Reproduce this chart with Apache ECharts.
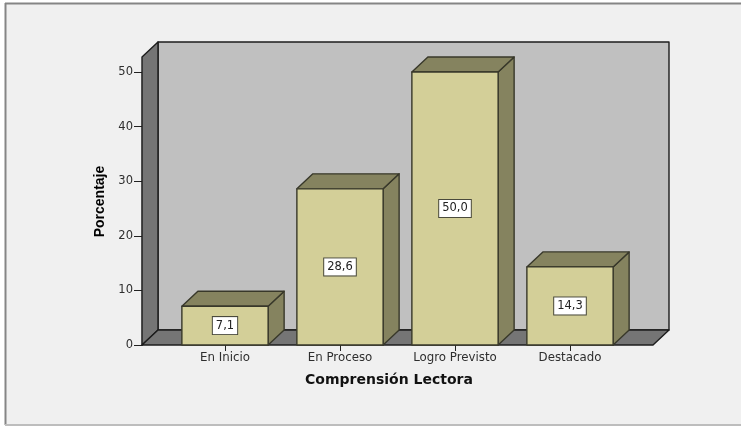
<!DOCTYPE html>
<html>
<head>
<meta charset="utf-8">
<style>html,body{margin:0;padding:0;background:#fff}#chart{width:741px;height:426px}</style>
<script src="https://cdn.jsdelivr.net/npm/echarts@6/dist/echarts.min.js"></script>
</head>
<body>
<div id="chart"></div>
<script>
const categories = ['En Inicio', 'En Proceso', 'Logro Previsto', 'Destacado'];
const percentages = [7.1, 28.6, 50.0, 14.3];
const yTicks = { min: 0, max: 50, interval: 10 };

// Oblique projection used for the pseudo-3D box
const DEPTH_X = 16, DEPTH_Y = 15;
const SIDE_PAD = 25.5, WALL_HEADROOM = 15;
const BAR_RATIO = 0.75;

const C = {
  page: '#f0f0f0', frame: '#858585', frameLow: '#bdbdbd', back: '#c0c0c0', wall: '#757575',
  wallLine: '#1c1c1c', front: '#d3cf98', side: '#85835f', barLine: '#38382a',
  text: '#2e2e2e'
};

const poly = (points, fill, stroke) => ({
  type: 'polygon',
  shape: { points },
  style: { fill, stroke, lineWidth: 1.4, lineJoin: 'round' }
});

// Back wall, left wall and floor of the box
function renderWalls(params) {
  const g = params.coordSys;
  const l = g.x - SIDE_PAD, r = g.x + g.width + SIDE_PAD;
  const b = g.y + g.height, t = g.y - WALL_HEADROOM;
  const dx = DEPTH_X, dy = DEPTH_Y;
  return {
    type: 'group',
    children: [
      poly([[l + dx, t - dy], [r + dx, t - dy], [r + dx, b - dy], [l + dx, b - dy]], C.back, C.wallLine),
      poly([[l, t], [l + dx, t - dy], [l + dx, b - dy], [l, b]], C.wall, C.wallLine),
      poly([[l, b], [l + dx, b - dy], [r + dx, b - dy], [r, b]], C.wall, C.wallLine)
    ]
  };
}

// One extruded bar with its boxed value label on the front face
function renderBar(params, api) {
  const idx = api.value(0);
  const val = api.value(1);
  const top = api.coord([idx, val]);
  const base = api.coord([idx, 0]);
  const w = api.size([1, 0])[0] * BAR_RATIO;
  const x0 = top[0] - w / 2, x1 = top[0] + w / 2;
  const y0 = top[1], y1 = base[1];
  const dx = DEPTH_X, dy = DEPTH_Y;
  return {
    type: 'group',
    children: [
      poly([[x1, y0], [x1 + dx, y0 - dy], [x1 + dx, y1 - dy], [x1, y1]], C.side, C.barLine),
      poly([[x0, y0], [x0 + dx, y0 - dy], [x1 + dx, y0 - dy], [x1, y0]], C.side, C.barLine),
      poly([[x0, y0], [x1, y0], [x1, y1], [x0, y1]], C.front, C.barLine),
      {
        type: 'text',
        x: top[0],
        y: (y0 + y1) / 2,
        style: {
          text: val.toFixed(1).replace('.', ','),
          fill: '#222',
          font: '11.5px "DejaVu Sans"',
          align: 'center',
          verticalAlign: 'middle',
          backgroundColor: '#ffffff',
          borderColor: '#4a4a3c',
          borderWidth: 1,
          padding: [3, 3, 2, 3]
        }
      }
    ]
  };
}

const chart = echarts.init(document.getElementById('chart'), null, { renderer: 'canvas' });
chart.setOption({
  animation: false,
  graphic: [
    { type: 'rect', z: -2, shape: { x: 5, y: 3, width: 745, height: 422 }, style: { fill: C.page } },
    { type: 'line', z: -1, shape: { x1: 5, y1: 3.5, x2: 741, y2: 3.5 }, style: { stroke: C.frame, lineWidth: 2 } },
    { type: 'line', z: -1, shape: { x1: 5.5, y1: 3, x2: 5.5, y2: 425 }, style: { stroke: C.frame, lineWidth: 2 } },
    { type: 'line', z: -1, shape: { x1: 5, y1: 425, x2: 741, y2: 425 }, style: { stroke: C.frameLow, lineWidth: 2 } }
  ],
  grid: { left: 167.5, top: 72, width: 460, height: 273 },
  xAxis: {
    type: 'category',
    data: categories,
    axisLine: { show: false },
    axisTick: { show: true, alignWithLabel: true, length: 6, lineStyle: { color: '#222', width: 1 } },
    axisLabel: { color: C.text, fontFamily: 'DejaVu Sans', fontSize: 11.8, margin: 7 },
    name: 'Comprensión Lectora',
    nameLocation: 'middle',
    nameGap: 28,
    nameTextStyle: { color: '#111', fontFamily: 'DejaVu Sans', fontWeight: 'bold', fontSize: 14, padding: [0, 17, 0, 0] }
  },
  yAxis: {
    type: 'value',
    min: yTicks.min,
    max: yTicks.max,
    interval: yTicks.interval,
    offset: SIDE_PAD,
    splitLine: { show: false },
    axisLine: { show: true, lineStyle: { color: '#1c1c1c', width: 1.4 } },
    axisTick: { show: true, length: 8, lineStyle: { color: '#222', width: 1 } },
    axisLabel: { color: C.text, fontFamily: 'DejaVu Sans', fontSize: 11.5, margin: 9 },
    name: 'Porcentaje',
    nameLocation: 'middle',
    nameGap: 33,
    nameTextStyle: { color: '#000', fontFamily: 'Liberation Sans', fontWeight: 'bold', fontSize: 14, padding: [0, 0, 0, 14] }
  },
  series: [
    { type: 'custom', name: 'walls', z: 1, silent: true, data: [[0, 0]], renderItem: renderWalls },
    {
      type: 'custom',
      name: 'Porcentaje',
      z: 3,
      encode: { x: 0, y: 1 },
      data: percentages.map((v, i) => [i, v]),
      renderItem: renderBar
    }
  ]
});
</script>
</body>
</html>
